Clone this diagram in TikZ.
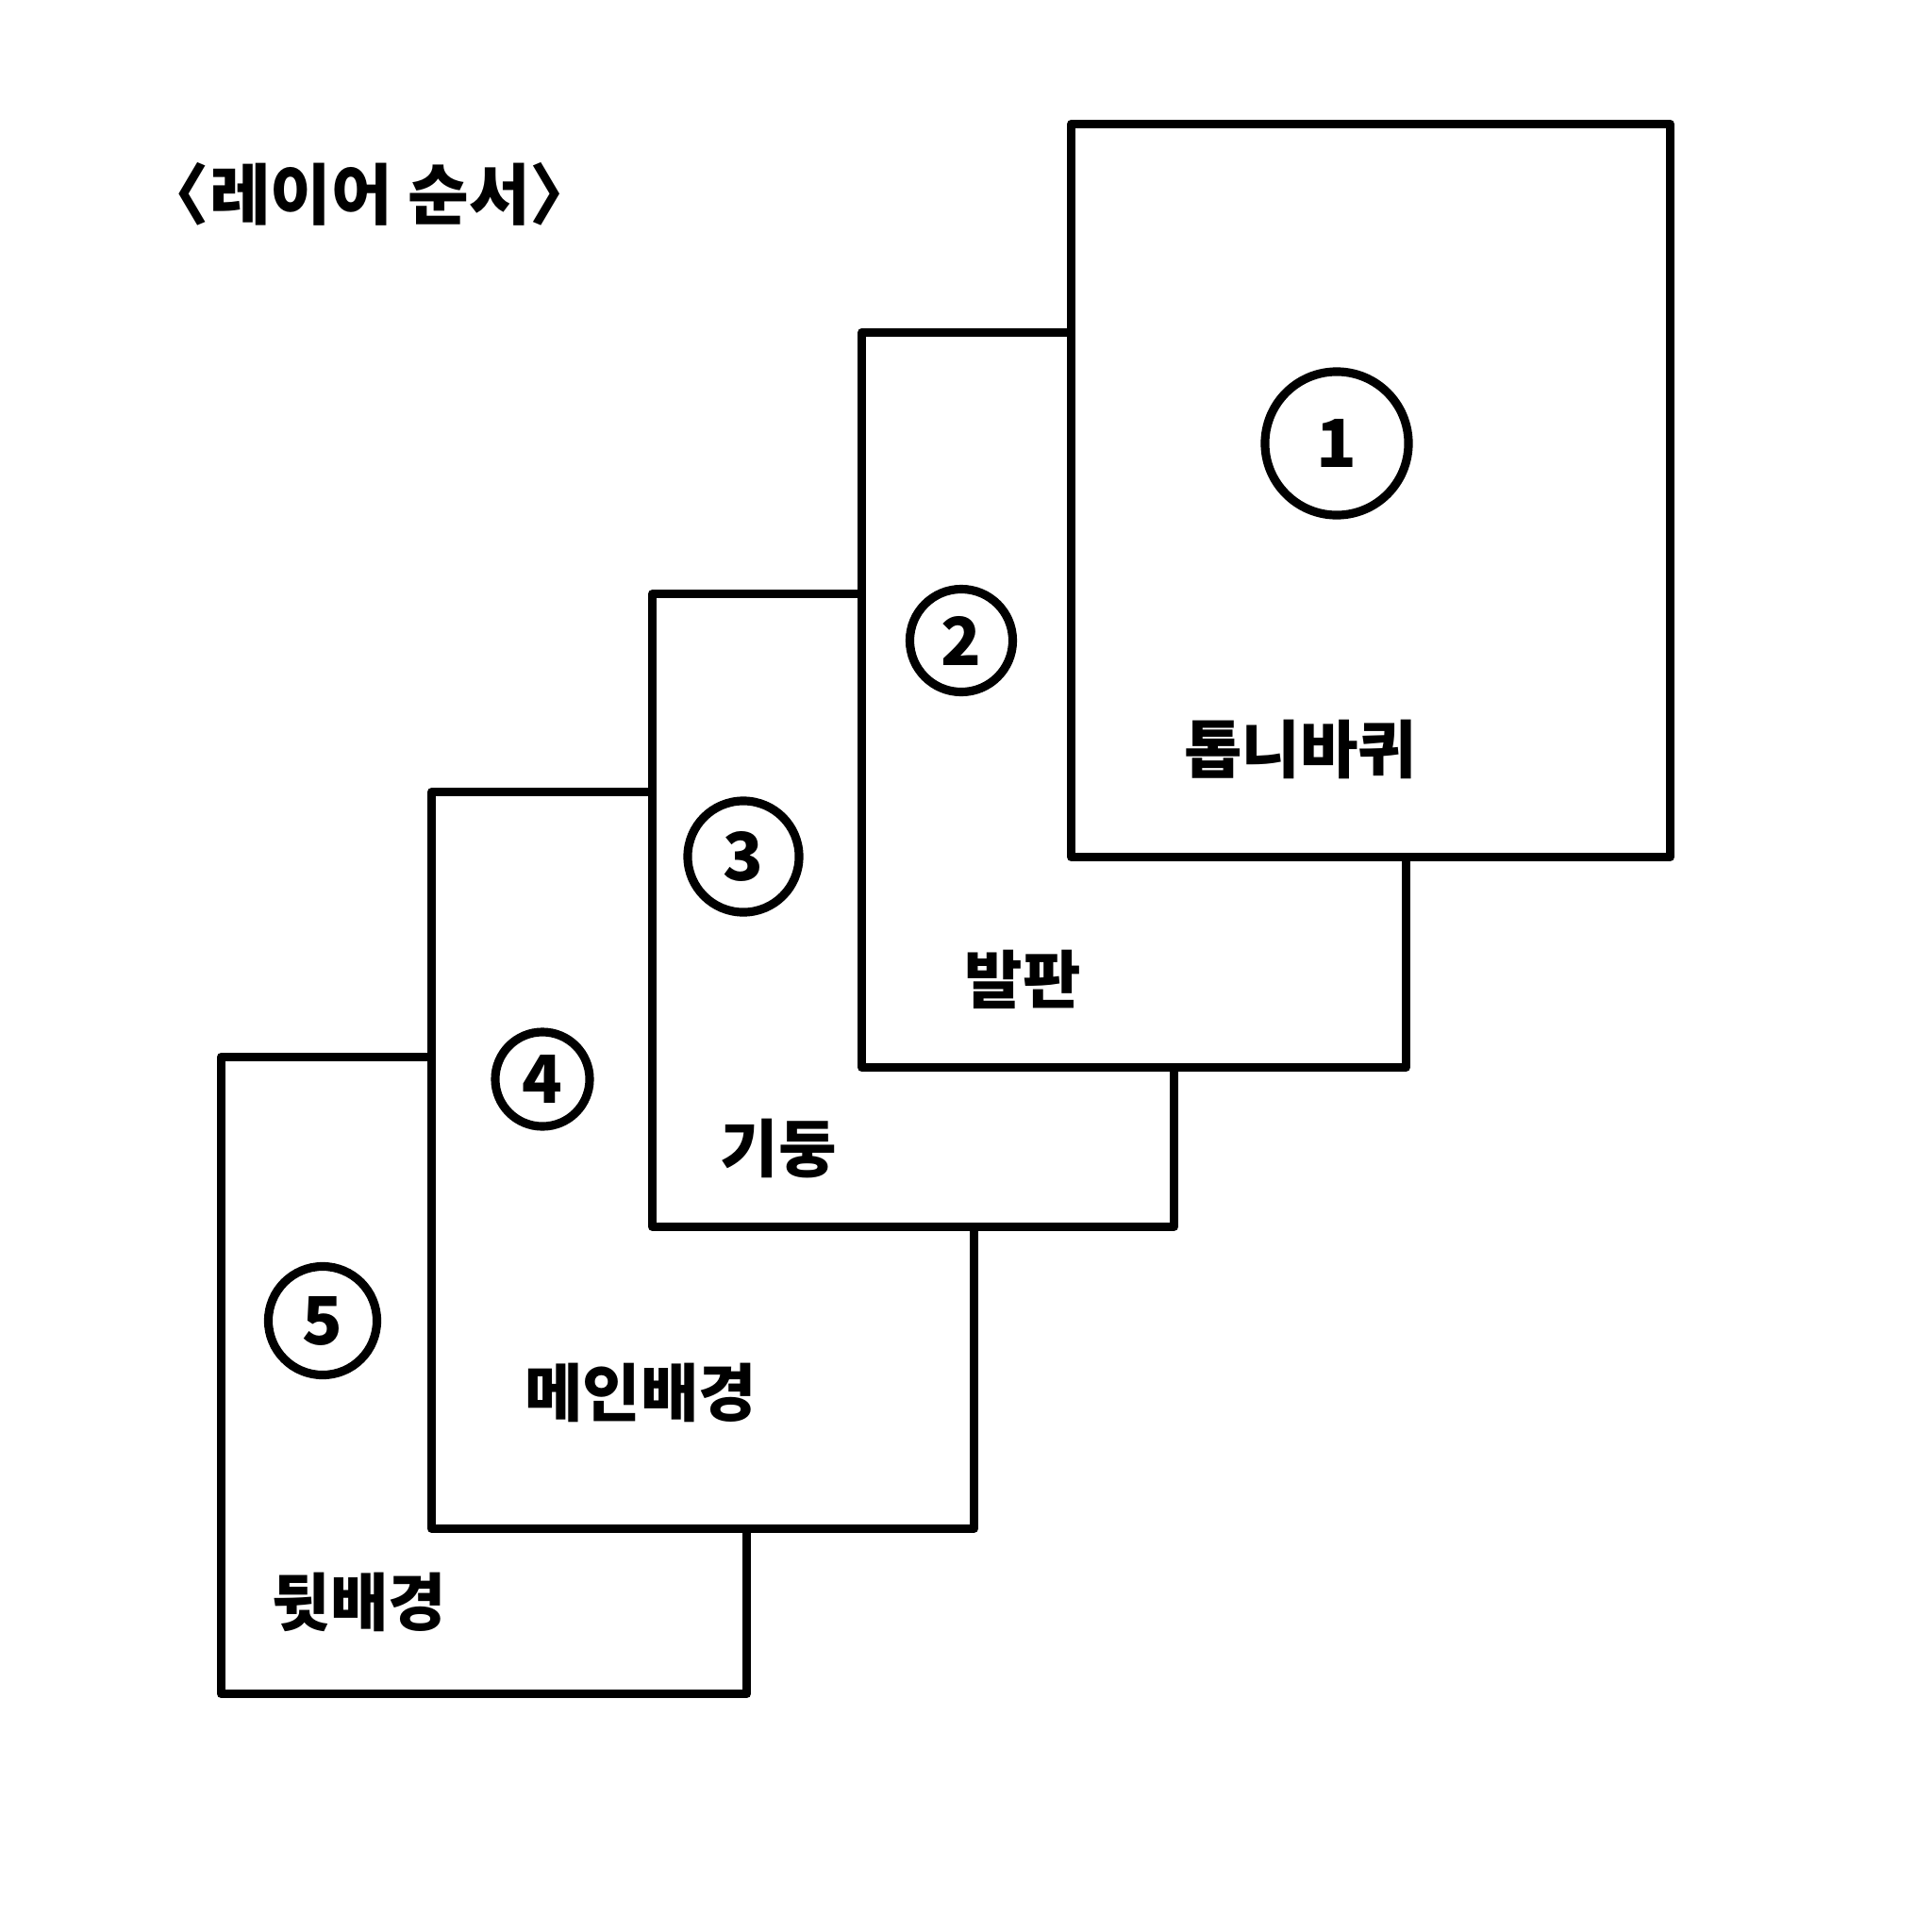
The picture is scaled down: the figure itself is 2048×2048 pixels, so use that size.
\documentclass[tikz,border=0pt]{standalone}
\usepackage{fontspec}
\newfontfamily\kr{Noto Sans CJK KR}
\usetikzlibrary{positioning}

\begin{document}
\begin{tikzpicture}[x=0.01cm, y=-0.01cm, line width=2.6pt,
    sheet/.style={draw, fill=white, rectangle, inner sep=0pt, outer sep=0pt, line join=round},
    ordermark/.style={draw, circle, inner sep=0pt, font=\kr\bfseries\fontsize{20}{22}\selectfont},
    sheetname/.style={font=\kr\bfseries\fontsize{19}{22}\selectfont}]
  \useasboundingbox (0,0) rectangle (2048,2048);
  \node [font=\kr\bfseries\fontsize{20}{24}\selectfont] (title) at (392,206) {〈레이어 순서〉};

  % back to front
  \node [sheet, minimum width=5.57cm, minimum height=6.75cm] (back) at (513,1458) {};
  \node [ordermark, minimum size=1.15cm] (n5) at (342,1400) {5};
  \node [sheetname] (backname) at (381,1698) {뒷배경};

  \node [sheet, minimum width=5.75cm, minimum height=7.8cm] (mainbg) at (745,1230) {};
  \node [ordermark, minimum size=1.0cm] (n4) at (575,1144) {4};
  \node [sheetname] (mainname) at (679,1476) {메인배경};

  \node [sheet, minimum width=5.53cm, minimum height=6.7cm] (pillar) at (968,965) {};
  \node [ordermark, minimum size=1.18cm] (n3) at (788,908) {3};
  \node [sheetname] (pillarname) at (825,1217) {기둥};

  \node [sheet, minimum width=5.76cm, minimum height=7.79cm] (platform) at (1202,742) {};
  \node [ordermark, minimum size=1.09cm] (n2) at (1019,679) {2};
  \node [sheetname] (platformname) at (1084,1038) {발판};

  \node [sheet, minimum width=6.34cm, minimum height=7.77cm] (gear) at (1453,520) {};
  \node [ordermark, minimum size=1.52cm] (n1) at (1417,470) {1};
  \node [sheetname] (gearname) at (1378,794) {톱니바퀴};
\end{tikzpicture}
\end{document}
